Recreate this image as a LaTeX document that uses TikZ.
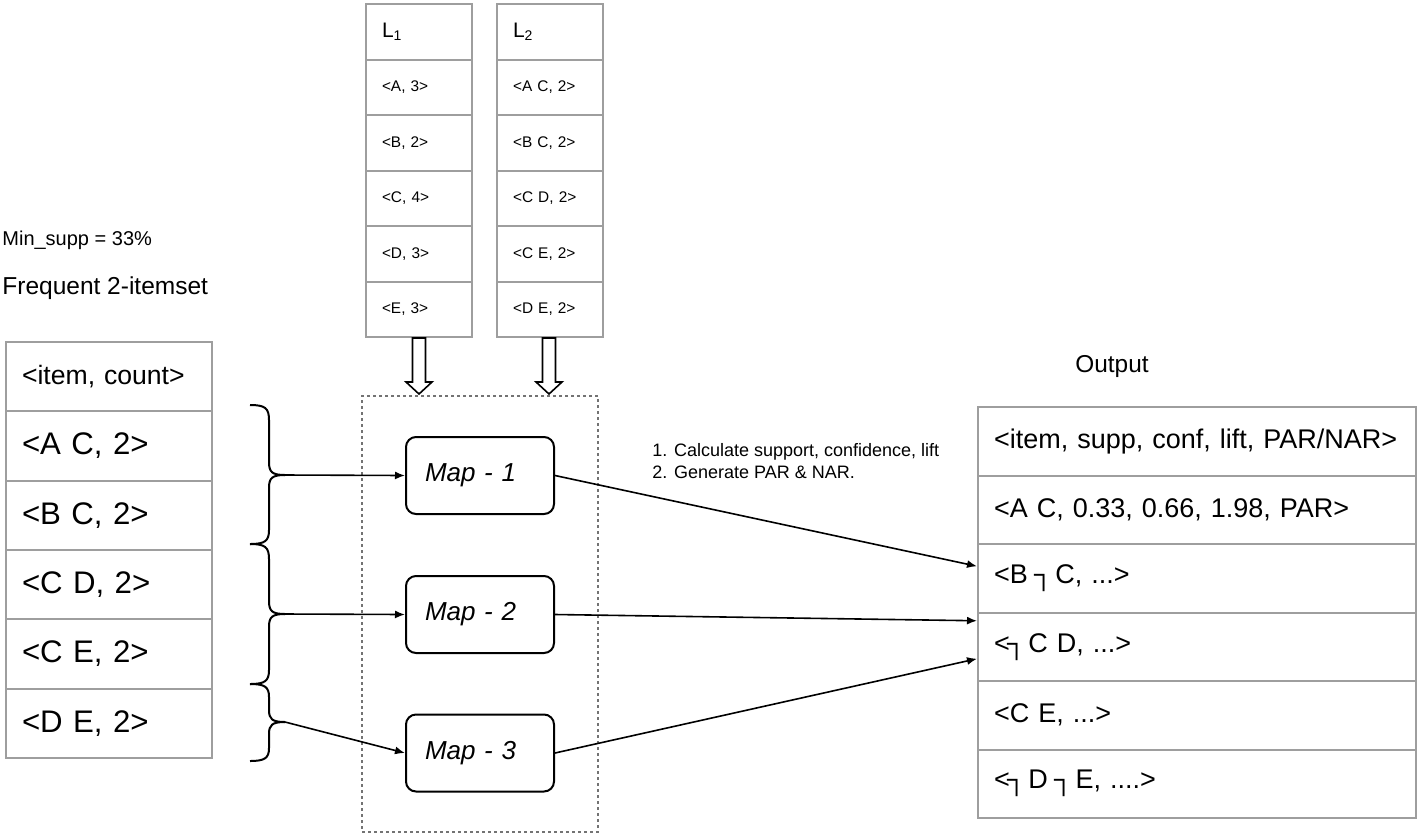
\documentclass[tikz,border=0pt]{standalone}
\usepackage{fontspec}
\setmainfont{Liberation Sans}
\usetikzlibrary{calc,arrows.meta}
\newcommand\negbar{\kern-0.1em ┐\kern-0.25em}
\begin{document}
\begin{tikzpicture}[x=0.5pt,y=-0.5pt,
  tbl/.style={draw=black!38, line width=1pt, anchor=north west, inner xsep=8pt, inner ysep=0pt, align=left},
  fcell/.style={tbl, text width=87pt, minimum height=34.65pt, font=\fontsize{15.6pt}{18pt}\selectfont},
  fhead/.style={tbl, text width=87pt, minimum height=34.65pt, font=\fontsize{13.3pt}{16pt}\selectfont},
  lcell/.style={tbl, text width=37pt, minimum height=27.75pt, font=\fontsize{7.7pt}{9pt}\selectfont},
  lhead/.style={tbl, text width=37pt, minimum height=27.75pt, font=\fontsize{10.5pt}{12pt}\selectfont},
  ocell/.style={tbl, text width=203pt, minimum height=34.25pt, font=\fontsize{13.5pt}{16pt}\selectfont},
  mapbox/.style={draw, line width=1pt, rounded corners=5pt, minimum width=74pt, minimum height=38.5pt, inner xsep=9.5pt, text width=55pt, align=left, font=\fontsize{13pt}{15pt}\selectfont\itshape},
  conn/.style={line width=0.8pt, -{Latex[length=5pt,width=4pt]}},
  bracestyle/.style={line width=1pt},
  blockarr/.style={draw, fill=white, line width=0.8pt, line join=miter},
  plain/.style={inner sep=0pt, anchor=west, align=left}
]
\useasboundingbox (0,0) rectangle (1418,836);

% labels on the left
\node[plain, font=\fontsize{10pt}{12pt}\selectfont] (minsupp) at (2,240) {Min\_supp = 33\%};
\node[plain, font=\fontsize{12.25pt}{14pt}\selectfont] (freq) at (2,288) {Frequent 2-itemset};

% frequent 2-itemset table
\node[fhead] (f0) at (5,341) {<item, count>};
\node[fcell] (f1) at (5,410.3) {<A C, 2>};
\node[fcell] (f2) at (5,479.6) {<B C, 2>};
\node[fcell] (f3) at (5,548.9) {<C D, 2>};
\node[fcell] (f4) at (5,618.2) {<C E, 2>};
\node[fcell] (f5) at (5,687.5) {<D E, 2>};

% L1 table
\node[lhead] (l1h) at (365,3) {L\raisebox{-0.35ex}{\scriptsize 1}};
\node[lcell] (l1a) at (365,58.5) {<A, 3>};
\node[lcell] (l1b) at (365,114) {<B, 2>};
\node[lcell] (l1c) at (365,169.5) {<C, 4>};
\node[lcell] (l1d) at (365,225) {<D, 3>};
\node[lcell] (l1e) at (365,280.5) {<E, 3>};

% L2 table
\node[lhead] (l2h) at (496,3) {L\raisebox{-0.35ex}{\scriptsize 2}};
\node[lcell] (l2a) at (496,58.5) {<A C, 2>};
\node[lcell] (l2b) at (496,114) {<B C, 2>};
\node[lcell] (l2c) at (496,169.5) {<C D, 2>};
\node[lcell] (l2d) at (496,225) {<C E, 2>};
\node[lcell] (l2e) at (496,280.5) {<D E, 2>};

% dashed group
\node[draw=black!55, dash pattern=on 1.5pt off 1.5pt, line width=0.8pt, minimum width=118pt, minimum height=218pt, inner sep=0pt] (grp) at (480,614) {};

% block arrows
\draw[blockarr] ($(l1e.south)+(-6.5,0)$) -- ++(0,44) -- ++(-6.5,0) -- ($(l1e.south)+(0,56)$) -- ($(l1e.south)+(13,44)$) -- ++(-6.5,0) -- ($(l1e.south)+(6.5,0)$) -- cycle;
\draw[blockarr] ($(l2e.south)+(-7.5,0)$) -- ++(0,44) -- ++(-6.5,0) -- ($(l2e.south)+(-1,56)$) -- ($(l2e.south)+(12,44)$) -- ++(-6.5,0) -- ($(l2e.south)+(5.5,0)$) -- cycle;

% map boxes
\node[mapbox] (m1) at (480,475.5) {Map - 1};
\node[mapbox] (m2) at (480,614.5) {Map - 2};
\node[mapbox] (m3) at (480,753) {Map - 3};

% braces
\coordinate (b1) at (285,475);
\coordinate (b2) at (285,614);
\coordinate (b3) at (285,722);
\draw[bracestyle] (250,405) .. controls (265,405) and (269,408) .. (269,420) -- (269,462) .. controls (269,472) and (272,475) .. (b1);
\draw[bracestyle] (b1) .. controls (272,475) and (269,478) .. (269,488) -- (269,530) .. controls (269,541) and (265,544) .. (250,544);
\draw[bracestyle] (250,544) .. controls (265,544) and (269,547) .. (269,559) -- (269,601) .. controls (269,611) and (272,614) .. (b2);
\draw[bracestyle] (b2) .. controls (272,614) and (269,617) .. (269,627) -- (269,670) .. controls (269,681) and (265,684) .. (250,684);
\draw[bracestyle] (250,684) .. controls (265,684) and (269,687) .. (269,697) -- (269,710) .. controls (269,719) and (272,722) .. (b3);
\draw[bracestyle] (b3) .. controls (272,722) and (269,725) .. (269,734) -- (269,748) .. controls (269,758) and (265,761) .. (250,761);

% arrows into maps
\draw[conn] (b1) -- (m1.west);
\draw[conn] (b2) -- (m2.west);
\draw[conn] (b3) -- (m3.west);

% output
\node[font=\fontsize{12.2pt}{14pt}\selectfont, inner sep=0pt] (outlbl) at (1112,367) {Output};
\node[ocell] (o1) at (977,406) {<item, supp, conf, lift, PAR/NAR>};
\node[ocell] (o2) at (977,474.5) {<A C, 0.33, 0.66, 1.98, PAR>};
\node[ocell] (o3) at (977,543) {<B \negbar{} C, ...>};
\node[ocell] (o4) at (977,611.5) {<\negbar{} C D, ...>};
\node[ocell] (o5) at (977,680) {<C E, ...>};
\node[ocell] (o6) at (977,748.5) {<\negbar{} D \negbar{} E, ....>};

% arrows to output
\draw[conn] (m1.east) -- ($(o3.west)+(0,-12)$);
\draw[conn] (m2.east) -- ($(o4.west)+(0,-26)$);
\draw[conn] (m3.east) -- ($(o4.west)+(0,12)$);

% annotation
\node[plain, font=\fontsize{9pt}{11pt}\selectfont] (note) at (652,461) {1. Calculate support, confidence, lift\\2. Generate PAR \& NAR.};
\end{tikzpicture}
\end{document}
